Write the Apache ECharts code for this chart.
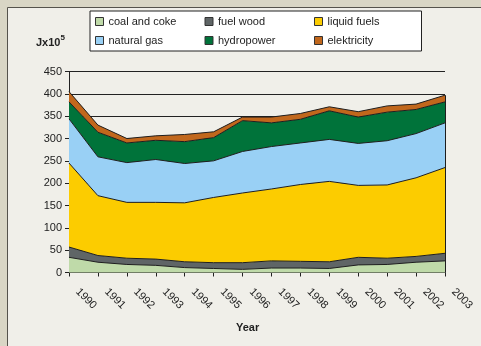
<!DOCTYPE html>
<html>
<head>
<meta charset="utf-8">
<script src="https://cdn.jsdelivr.net/npm/echarts@6/dist/echarts.min.js"></script>
<style>
  html, body { margin: 0; padding: 0; background: #d9d6c5; }
  #chart { width: 481px; height: 346px; }
</style>
</head>
<body>
<div id="chart"></div>
<script>
// Energy consumption by source, 1990–2003 (Jx10^5)
const years = ['1990','1991','1992','1993','1994','1995','1996','1997','1998','1999','2000','2001','2002','2003'];
const coalAndCoke = [34, 23, 18, 16, 11, 9, 7, 10, 10, 9, 17, 18, 23, 26];
const fuelWood    = [23, 15, 14, 14, 13, 13, 15, 16, 15, 15, 17, 14, 13, 17];
const liquidFuels = [188, 134, 125, 127, 132, 146, 156, 161, 172, 180, 161, 164, 176, 192];
const naturalGas  = [99, 87, 89, 96, 88, 82, 93, 95, 93, 94, 94, 99, 99, 100];
const hydropower  = [38, 55, 44, 43, 49, 52, 69, 53, 53, 64, 59, 64, 54, 47];
const elektricity = [23, 16, 10, 10, 16, 13, 8, 13, 13, 9, 12, 14, 12, 15];
const yTicks = { min: 0, max: 450, step: 50 };

const seriesDefs = [
  { name: 'coal and coke', data: coalAndCoke, color: '#bfdaa9' },
  { name: 'fuel wood',     data: fuelWood,    color: '#5f6566' },
  { name: 'liquid fuels',  data: liquidFuels, color: '#fccc00' },
  { name: 'natural gas',   data: naturalGas,  color: '#99d0f5' },
  { name: 'hydropower',    data: hydropower,  color: '#00733a' },
  { name: 'elektricity',   data: elektricity, color: '#c1671c' }
];

const last = years.length - 1;
const stackTopLast = seriesDefs.reduce((s, d) => s + d.data[last], 0);

const font = '"Liberation Sans", Arial, sans-serif';
const chart = echarts.init(document.getElementById('chart'), null, { renderer: 'canvas' });

const series = seriesDefs.map((d, i) => {
  const s = {
    name: d.name,
    type: 'line',
    stack: 'total',
    data: d.data,
    showSymbol: false,
    symbol: 'none',
    itemStyle: { color: d.color, borderColor: '#222', borderWidth: 1 },
    lineStyle: { color: '#1e1e1e', width: 1 },
    areaStyle: { color: d.color, opacity: 1 },
    emphasis: { disabled: true },
    animation: false
  };
  if (i === seriesDefs.length - 1) {
    // closing edge of the stacked areas at the last year
    s.markLine = {
      silent: true,
      symbol: 'none',
      label: { show: false },
      lineStyle: { color: '#1e1e1e', width: 1, type: 'solid' },
      data: [[{ coord: [years[last], 0] }, { coord: [years[last], stackTopLast] }]]
    };
  }
  return s;
});

chart.setOption({
  animation: false,
  backgroundColor: '#d9d6c5',
  textStyle: { fontFamily: font },
  graphic: [
    {
      type: 'rect', z: -10, silent: true,
      shape: { x: 7.5, y: 7.5, width: 500, height: 400 },
      style: { fill: '#f0efe9', stroke: '#55534c', lineWidth: 1 }
    },
    {
      type: 'text', left: 36, top: 34, silent: true,
      style: {
        text: '{b|Jx10}{s|5}',
        rich: {
          b: { fontFamily: font, fontSize: 11, fontWeight: 'bold', fill: '#222', verticalAlign: 'bottom', lineHeight: 14 },
          s: { fontFamily: font, fontSize: 8, fontWeight: 'bold', fill: '#222', verticalAlign: 'top', padding: [0, 0, 4, 0], lineHeight: 14 }
        }
      }
    },
    {
      type: 'text', left: 236, top: 322, silent: true,
      style: { text: 'Year', fontFamily: font, fontSize: 11, fontWeight: 'bold', fill: '#222' }
    }
  ],
  legend: {
    left: 90,
    top: 11,
    width: 350,
    padding: [4, 4, 4, 5],
    itemGap: 6,
    itemWidth: 8,
    itemHeight: 8,
    itemTextGap: 3,
    icon: 'rect',
    backgroundColor: '#ffffff',
    borderColor: '#222',
    borderWidth: 1,
    borderRadius: 0,
    itemStyle: { borderColor: '#333', borderWidth: 1 },
    textStyle: { fontFamily: font, fontSize: 11, color: '#222', width: 90, lineHeight: 13 },
    selectedMode: false,
    data: seriesDefs.map(d => d.name)
  },
  grid: { left: 69, right: 36, top: 71.5, bottom: 73.5, containLabel: false },
  xAxis: {
    type: 'category',
    data: years,
    boundaryGap: false,
    axisLine: { lineStyle: { color: '#222', width: 1 } },
    axisTick: { show: true, length: 4, interval: 0, lineStyle: { color: '#222' } },
    axisLabel: { rotate: -45, interval: 0, fontSize: 11, color: '#222', margin: 9, padding: [0, 0, 0, 12], fontFamily: font },
    splitLine: { show: false }
  },
  yAxis: {
    type: 'value',
    min: yTicks.min,
    max: yTicks.max,
    interval: yTicks.step,
    axisLine: { show: true, lineStyle: { color: '#222', width: 1 } },
    axisTick: { show: true, length: 4, lineStyle: { color: '#222' } },
    axisLabel: { fontSize: 11, color: '#222', margin: 7, fontFamily: font },
    splitLine: { show: true, lineStyle: { color: '#222', width: 1 } }
  },
  series: series
});
</script>
</body>
</html>
